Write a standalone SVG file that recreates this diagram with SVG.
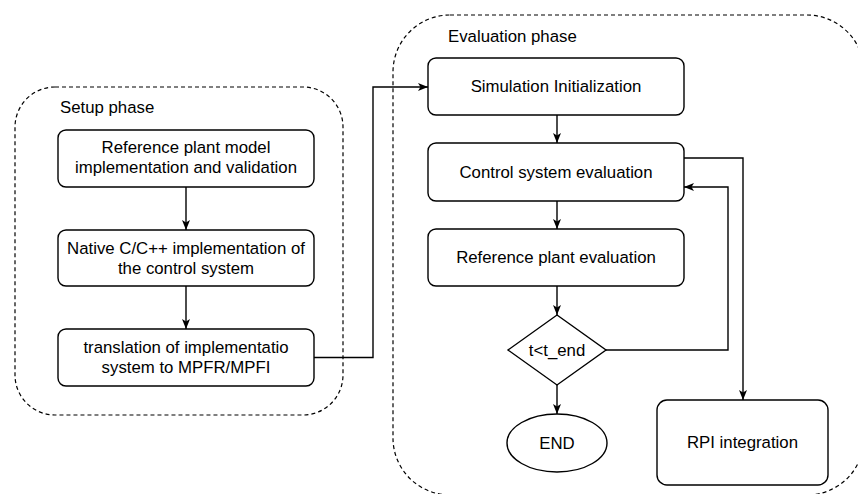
<svg xmlns="http://www.w3.org/2000/svg" width="858" height="494" viewBox="0 0 858 494">
<defs>
<style>
.box{fill:#fff;stroke:#000;stroke-width:1.4}
.cont{fill:none;stroke:#000;stroke-width:1.2;stroke-dasharray:4 3}
.t{font-family:"Liberation Sans",Arial,sans-serif;font-size:16.8px;fill:#000;text-anchor:middle}
.tl{font-family:"Liberation Sans",Arial,sans-serif;font-size:16.8px;fill:#000}
.c{fill:none;stroke:#000;stroke-width:1.4}
</style>
<marker id="arr" viewBox="0 0 10 8" refX="10" refY="4" markerWidth="10" markerHeight="8" markerUnits="userSpaceOnUse" orient="auto">
<path d="M0,0 L10,4 L0,8 L2.5,4 Z" fill="#000"/>
</marker>
</defs>
<rect width="858" height="494" fill="#fff"/>

<g id="setup-phase">
<rect class="cont" x="15" y="87" width="328" height="328" rx="40" ry="40"/>
<text class="tl" x="60" y="113">Setup phase</text>
</g>
<g id="evaluation-phase">
<rect class="cont" x="393" y="15" width="471" height="480" rx="57" ry="57"/>
<text class="tl" x="448" y="42">Evaluation phase</text>
</g>

<g id="connectors">
<path class="c" d="M186,187 L186,230" marker-end="url(#arr)"/>
<path class="c" d="M186,286 L186,329" marker-end="url(#arr)"/>
<path class="c" d="M314,357.5 L373,357.5 L373,87 L428,87" marker-end="url(#arr)"/>
<path class="c" d="M557,115 L557,143" marker-end="url(#arr)"/>
<path class="c" d="M557,201 L557,229" marker-end="url(#arr)"/>
<path class="c" d="M557,286 L557,315" marker-end="url(#arr)"/>
<path class="c" d="M557,385 L557,414" marker-end="url(#arr)"/>
<path class="c" d="M606,350 L728,350 L728,187 L684,187" marker-end="url(#arr)"/>
<path class="c" d="M684,158 L743,158 L743,400" marker-end="url(#arr)"/>
</g>

<g id="ref-plant-model">
<rect class="box" x="58" y="130" width="256" height="57" rx="8" ry="8"/>
<text class="t" x="186" y="153">Reference plant model</text>
<text class="t" x="186" y="173">implementation and validation</text>
</g>
<g id="native-impl">
<rect class="box" x="58" y="230" width="256" height="56" rx="8" ry="8"/>
<text class="t" x="186" y="254">Native C/C++ implementation of</text>
<text class="t" x="186" y="274">the control system</text>
</g>
<g id="translation">
<rect class="box" x="58" y="329" width="256" height="57" rx="8" ry="8"/>
<text class="t" x="186" y="352.5">translation of implementatio</text>
<text class="t" x="186" y="372.5">system to MPFR/MPFI</text>
</g>

<g id="sim-init">
<rect class="box" x="428" y="58" width="256" height="57" rx="8" ry="8"/>
<text class="t" x="556" y="92">Simulation Initialization</text>
</g>
<g id="control-eval">
<rect class="box" x="428" y="143" width="256" height="58" rx="8" ry="8"/>
<text class="t" x="556" y="178">Control system evaluation</text>
</g>
<g id="plant-eval">
<rect class="box" x="428" y="229" width="256" height="57" rx="8" ry="8"/>
<text class="t" x="556" y="263">Reference plant evaluation</text>
</g>
<g id="decision">
<polygon class="box" points="557,315 606,350 557,385 508,350"/>
<text class="t" x="557" y="356">t&lt;t_end</text>
</g>
<g id="end">
<ellipse class="box" cx="557" cy="443" rx="50" ry="29"/>
<text class="t" x="557" y="449">END</text>
</g>
<g id="rpi">
<rect class="box" x="657" y="400" width="171" height="85" rx="10" ry="10"/>
<text class="t" x="742.5" y="448">RPI integration</text>
</g>
</svg>
